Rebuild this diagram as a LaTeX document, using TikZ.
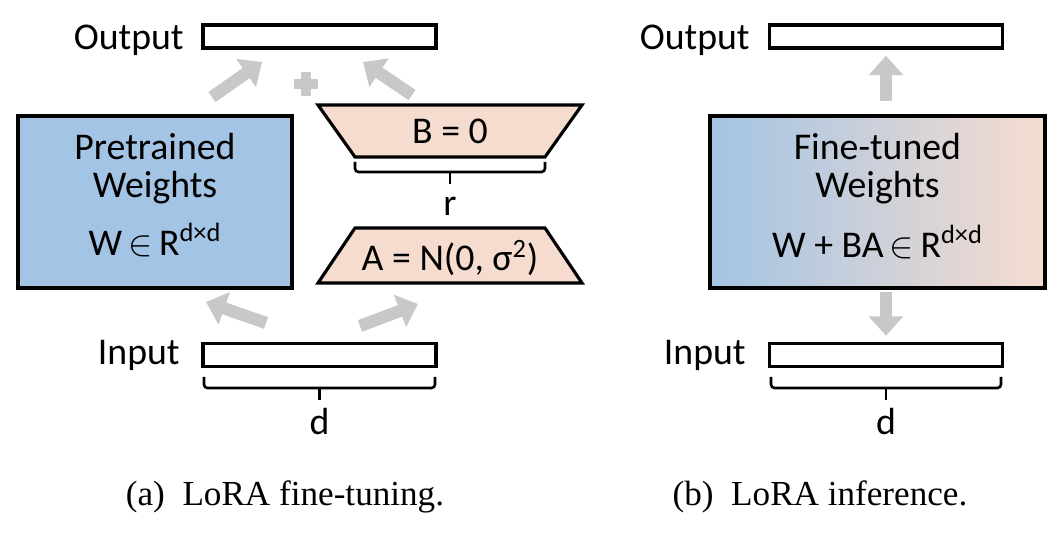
\documentclass[tikz,border=0pt]{standalone}
\usepackage{fontspec}
\setmainfont{Carlito}
\newfontfamily\capfont{Liberation Serif}
\usetikzlibrary{arrows.meta}
\definecolor{pblue}{HTML}{A3C4E4}
\definecolor{ppeach}{HTML}{F6DCCF}
\definecolor{agray}{HTML}{C8C8C8}
\begin{document}
\begin{tikzpicture}[x=0.02cm,y=-0.02cm,
  lbl/.style={font=\fontsize{21.5}{25}\selectfont, inner sep=0pt},
  bar/.style={draw, line width=2pt, minimum width=4.66cm, minimum height=0.46cm, inner sep=0pt},
  bigbox/.style={draw, line width=1.8pt, inner sep=0pt},
  garrow/.style={agray, line width=7pt, -{Triangle[width=19pt,length=11pt]}},
  brace/.style={line width=1.5pt, rounded corners=2pt},
  captext/.style={font=\capfont\fontsize{20}{24}\selectfont, inner sep=0pt}]
\useasboundingbox (0,0) rectangle (1062,536);
% ---------- left (a)
\node[bar] (outA) at (319.5,36.5) {};
\node[lbl, anchor=east] (outAl) at (184,40) {Output};
\node[bar] (inA) at (319.5,355) {};
\node[lbl, anchor=east] (inAl) at (180,355) {Input};
\node[bigbox, fill=pblue, minimum width=5.48cm, minimum height=3.44cm] (pre) at (155,202) {};
\node[lbl] (preT1) at (155,147) {Pretrained};
\node[lbl] (preT2) at (155,188) {Weights};
\node[lbl] (preT3) at (155,240) {W\,$\in$\,R\textsuperscript{d×d}};
% trapezoids
\draw[line width=1.8pt, fill=ppeach] (318,105) -- (582,105) -- (545,157) -- (355,157) -- cycle;
\node[lbl] (B) at (450,131) {B = 0};
\draw[line width=1.8pt, fill=ppeach] (355,228) -- (545,228) -- (582,283) -- (318,283) -- cycle;
\node[lbl] (A) at (450,258) {A = N(0, σ\textsuperscript{2})};
% brace r
\draw[brace] (355,162) -- (355,172) -- (545,172) -- (545,162);
\draw[line width=1.5pt] (450,172) -- (450,184);
\node[lbl] (r) at (450,206) {r};
% brace d
\draw[brace] (204,377) -- (204,388) -- (435,388) -- (435,377);
\draw[line width=1.5pt] (319.5,388) -- (319.5,400);
\node[lbl] (dA) at (319.5,422) {d};
% arrows
\coordinate (a1s) at (212,97); \coordinate (a1e) at (262,62);
\coordinate (a2s) at (412,95); \coordinate (a2e) at (363,62);
\draw[garrow] (a1s) -- (a1e);
\draw[garrow] (a2s) -- (a2e);
\coordinate (plus) at (306,84);
\draw[agray, line width=6pt] ([xshift=-0.24cm]plus) -- ([xshift=0.24cm]plus);
\draw[agray, line width=6pt] ([yshift=-0.24cm]plus) -- ([yshift=0.24cm]plus);
\coordinate (a3s) at (266,323); \coordinate (a3e) at (206,302);
\coordinate (a4s) at (360,326); \coordinate (a4e) at (418,304);
\draw[garrow] (a3s) -- (a3e);
\draw[garrow] (a4s) -- (a4e);
\node[captext] (capA) at (285,497) {(a)\ \ LoRA fine-tuning.};
% ---------- right (b)
\node[bar] (outB) at (886,36.5) {};
\node[lbl, anchor=east] (outBl) at (750,40) {Output};
\node[bar] (inB) at (886,355) {};
\node[lbl, anchor=east] (inBl) at (746,355) {Input};
\node[bigbox, left color=pblue, right color=ppeach, minimum width=6.7cm, minimum height=3.44cm] (ft) at (877.5,202) {};
\node[lbl] (ftT1) at (877.5,147) {Fine-tuned};
\node[lbl] (ftT2) at (877.5,188) {Weights};
\node[lbl] (ftT3) at (877.5,242) {W + BA\,$\in$\,R\textsuperscript{d×d}};
\coordinate (b1s) at (886,101);
\draw[garrow] (b1s) -- ([yshift=-0.12cm]outB.south);
\coordinate (b2s) at (886,292);
\draw[garrow] (b2s) -- ([yshift=0.12cm]inB.north);
\draw[brace] (771,377) -- (771,388) -- (1001,388) -- (1001,377);
\draw[line width=1.5pt] (886,388) -- (886,400);
\node[lbl] (dB) at (886,422) {d};
\node[captext] (capB) at (820,497) {(b)\ \ LoRA inference.};
\end{tikzpicture}
\end{document}
